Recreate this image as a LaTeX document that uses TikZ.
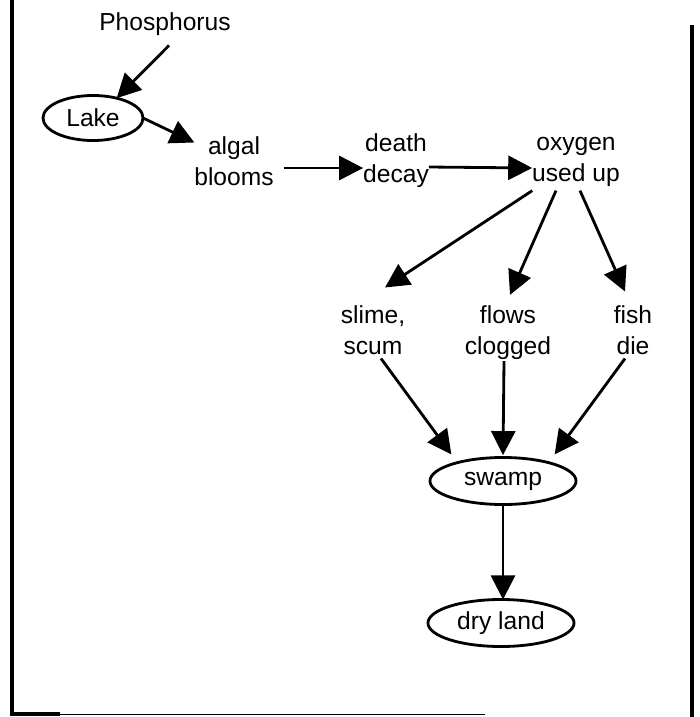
\documentclass[tikz,border=0pt]{standalone}
\usepackage{fontspec}
\setmainfont{Liberation Sans}
\usetikzlibrary{arrows.meta,shapes.geometric}

\begin{document}
\begin{tikzpicture}[
x=0.025cm, y=-0.025cm,
MyText/.style={align=center,inner sep=0pt,outer sep=0pt,font=\fontsize{17.5}{22}\selectfont},
MyEllipse/.style={draw,ellipse,line width=2pt,inner sep=0pt,outer sep=0pt,font=\fontsize{17.5}{22}\selectfont},
MyArrow/.style={-{Triangle[length=6mm,width=6mm]},line width=2pt},
Frame/.style={line width=2.2pt}
]
%\draw[gray!30,step=50] (0,0) grid (699,717);
\useasboundingbox (0,0) rectangle (699,717);

% frame of the page
\draw[Frame] (12,0) -- (12,714) -- (60,714);
\draw[line width=0.8pt] (60,714.5) -- (485,714.5);
\draw[Frame] (692,25) -- (692,717);

\node[MyText] (Phos) at (165,24) {Phosphorus};
\node[MyEllipse,minimum width=2.5cm,minimum height=1.125cm] (Lake) at (93,118) {Lake};
\node[MyText] (Algal) at (234,161) {algal\\blooms};
\node[MyText] (Death) at (396,161) {death\\decay};
\node[MyText] (Oxy) at (576,162) {oxygen\\used up};
\node[MyText] (Slime) at (373,330) {slime,\\scum};
\node[MyText] (Flows) at (508,333) {flows\\clogged};
\node[MyText] (Fish) at (633,330) {fish\\die};
\node[MyEllipse,minimum width=3.65cm,minimum height=1.175cm] (Swamp) at (503,481) {swamp};
\node[MyEllipse,minimum width=3.65cm,minimum height=1.175cm] (Dry) at (501,623) {dry\ land};

\draw[MyArrow] ([xshift=1mm,yshift=-2.5mm]Phos.south) -- (Lake.40);
\draw[MyArrow] (Lake.east) -- ([yshift=-1.5mm]Algal.north west);
\draw[MyArrow] ([xshift=2.5mm,yshift=-1.75mm]Algal.east) -- ([yshift=-1.75mm]Death.west);
\draw[MyArrow] ([yshift=-1.5mm]Death.east) -- ([yshift=-1.5mm]Oxy.west);

\draw[MyArrow] ([yshift=-1mm]Oxy.south west) -- ([xshift=3mm,yshift=4.5mm]Slime.north);
\draw[MyArrow] ([xshift=-5mm,yshift=-1mm]Oxy.south) -- ([xshift=0.5mm,yshift=2.8mm]Flows.north);
\draw[MyArrow] ([xshift=1mm,yshift=-1mm]Oxy.south) -- ([xshift=-2mm,yshift=3.5mm]Fish.north);

\draw[MyArrow] ([xshift=2mm,yshift=-1mm]Slime.south) -- ([yshift=2.5mm]Swamp.north west);
\draw[MyArrow] ([xshift=-1mm,yshift=-0.3mm]Flows.south) -- ([yshift=0.6mm]Swamp.north);
\draw[MyArrow] ([xshift=-2mm,yshift=-1mm]Fish.south) -- ([yshift=2.5mm]Swamp.north east);

\draw[MyArrow] (Swamp.south) -- (Swamp.south |- Dry.north);

\end{tikzpicture}
\end{document}
